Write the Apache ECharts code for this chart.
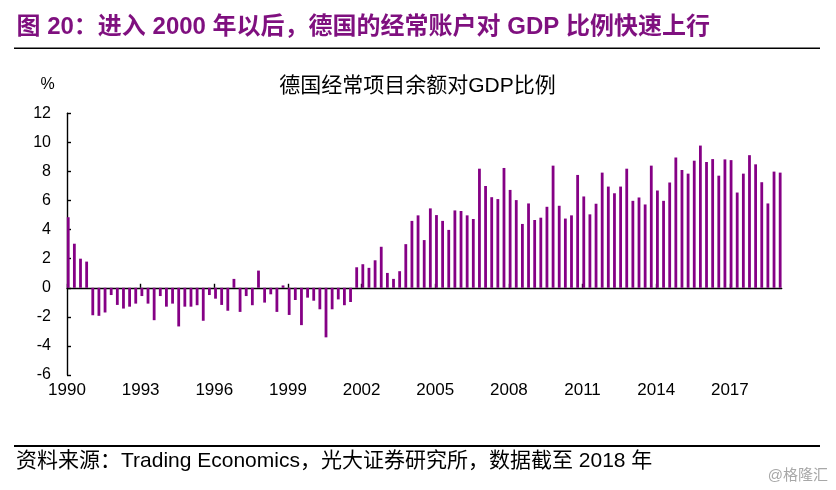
<!DOCTYPE html>
<html>
<head>
<meta charset="utf-8">
<script src="https://cdn.jsdelivr.net/npm/echarts@6/dist/echarts.min.js"></script>
<style>
html,body{margin:0;padding:0;background:#fff;}
#c{width:836px;height:490px;}
</style>
</head>
<body>
<div id="c"></div>
<script>
// Quarterly current account balance (% of GDP), Germany, from 1990Q1
var startYear = 1990;
var values = [
  4.85, 3.03, 2.0, 1.8,
  -1.89, -1.93, -1.7, -0.5,
  -1.18, -1.43, -1.3, -1.09,
  -0.57, -1.09, -2.23, -0.57,
  -1.3, -1.09, -2.66, -1.3,
  -1.3, -1.2, -2.27, -0.5,
  -0.75, -1.18, -1.58, 0.61,
  -1.66, -0.57, -1.2, 1.18,
  -1.02, -0.45, -1.66, 0.16,
  -1.87, -0.84, -2.57, -0.68,
  -0.89, -1.48, -3.41, -1.48,
  -0.8, -1.2, -0.98, 1.41,
  1.62, 1.37, 1.89, 2.82,
  1.02, 0.61, 1.14, 3.0,
  4.6, 4.98, 3.28, 5.46,
  5.0, 4.6, 3.98, 5.32,
  5.28, 4.98, 4.73, 8.19,
  7.0, 6.23, 6.1, 8.24,
  6.73, 6.03, 4.39, 5.8,
  4.66, 4.82, 5.57, 8.4,
  5.64, 4.76, 4.98, 7.76,
  6.28, 5.05, 5.78, 7.92,
  6.96, 6.5, 6.96, 8.19,
  5.98, 6.21, 5.73, 8.4,
  6.69, 5.98, 7.24, 8.96,
  8.1, 7.85, 8.74, 9.78,
  8.65, 8.85, 7.71, 8.83,
  8.78, 6.55, 7.85, 9.12,
  8.49, 7.26, 5.8, 7.99,
  7.92
];
var tickYears = ['1990','1993','1996','1999','2002','2005','2008','2011','2014','2017'];
var yTicks = [-6, -4, -2, 0, 2, 4, 6, 8, 10, 12];

var chartTitle = '德国经常项目余额对GDP比例';
var headerText = '图 20：进入 2000 年以后，德国的经常账户对 GDP 比例快速上行';
var footerText = '资料来源：Trading Economics，光大证券研究所，数据截至 2018 年';
var unitText = '%';
var watermark = '@格隆汇';

// x position of each quarter (in quarters since 1990Q1)
var tickPos = tickYears.map(function (y) { return (parseInt(y, 10) - startYear) * 4; });
var barData = values.map(function (v, i) { return [i + 0.2, v]; });

var FONT = '"Liberation Sans", Arial, "Noto Sans CJK SC", sans-serif';
var chart = echarts.init(document.getElementById('c'), null, {renderer: 'canvas'});

function txt(text, x, y, size, color, align, weight) {
  return {
    type: 'text', x: x, y: y, silent: true,
    style: {
      text: text, fontSize: size, fontFamily: FONT, fontWeight: weight || 'normal',
      fill: color, align: align, textAlign: align,
      verticalAlign: 'middle', textVerticalAlign: 'middle'
    }
  };
}

var xMin = 0, xMax = 116.45;

chart.setOption({
  animation: false,
  backgroundColor: '#fff',
  grid: {left: 67, right: 54.3, top: 113.3, bottom: 115, containLabel: false},
  xAxis: [
    {
      type: 'value', min: xMin, max: xMax, position: 'bottom',
      axisLine: {show: false, onZero: false},
      axisTick: {show: false},
      splitLine: {show: false},
      axisLabel: {
        customValues: tickPos,
        margin: 7, fontSize: 17, fontFamily: FONT, color: '#000',
        formatter: function (v) { return String(startYear + Math.round(v / 4)); }
      }
    },
    {
      type: 'value', min: xMin, max: xMax, position: 'bottom',
      axisLine: {show: true, onZero: true, lineStyle: {color: '#000', width: 1.4}},
      axisTick: {show: true, inside: true, length: 4, customValues: tickPos, lineStyle: {color: '#000', width: 1.4}},
      axisLabel: {show: false},
      splitLine: {show: false}
    }
  ],
  yAxis: {
    type: 'value', min: yTicks[0], max: yTicks[yTicks.length - 1], interval: 2,
    axisLine: {show: true, onZero: false, lineStyle: {color: '#000', width: 1.4}},
    axisTick: {show: true, inside: true, length: 4, lineStyle: {color: '#000', width: 1.4}},
    axisLabel: {margin: 16, fontSize: 16, fontFamily: FONT, color: '#000'},
    splitLine: {show: false}
  },
  series: [{
    type: 'bar',
    xAxisIndex: 0,
    data: barData,
    barWidth: 2.8,
    itemStyle: {color: '#850085'}
  }],
  graphic: [
    txt(headerText, 16.5, 27.5, 24, '#7F107F', 'left', 'bold'),
    {type: 'line', silent: true, shape: {x1: 14, y1: 48.3, x2: 820, y2: 48.3}, style: {stroke: '#000', lineWidth: 1.6}},
    txt(chartTitle, 417.5, 86, 21, '#000', 'center'),
    txt(unitText, 47.5, 85, 16, '#000', 'center'),
    {type: 'line', silent: true, shape: {x1: 14, y1: 446, x2: 820, y2: 446}, style: {stroke: '#000', lineWidth: 2.2}},
    txt(footerText, 16, 461.5, 21, '#000', 'left'),
    txt(watermark, 828, 476, 15, '#a8a8a8', 'right')
  ]
});
</script>
</body>
</html>
